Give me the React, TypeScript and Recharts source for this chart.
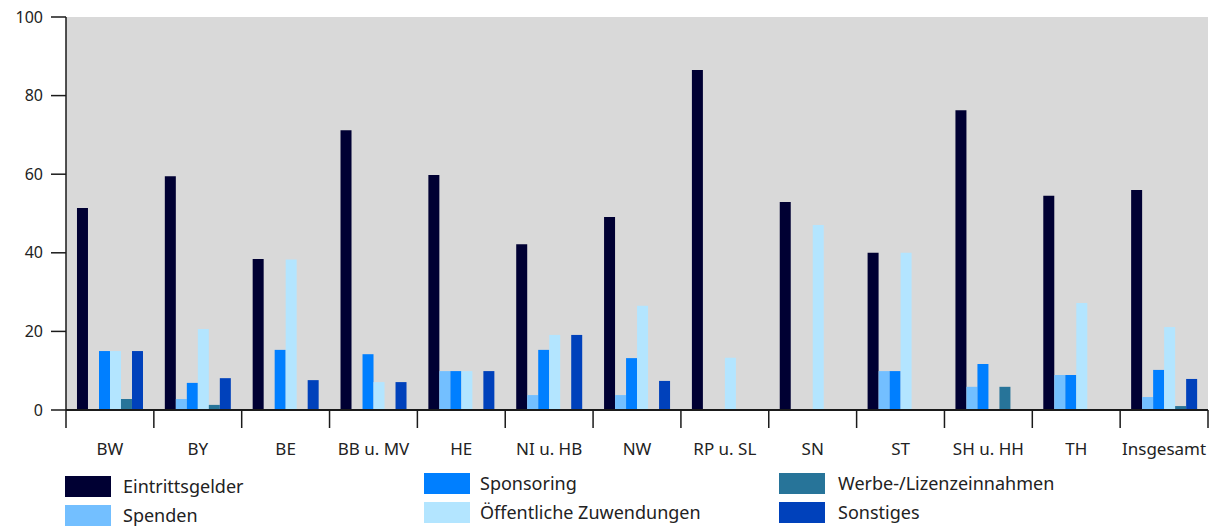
import { BarChart, Bar, XAxis, YAxis, CartesianGrid } from "recharts"

const regions = ["BW", "BY", "BE", "BB u. MV", "HE", "NI u. HB", "NW", "RP u. SL", "SN", "ST", "SH u. HH", "TH", "Insgesamt"]

const eintritt = [51.4, 59.5, 38.4, 71.2, 59.8, 42.2, 49.1, 86.5, 52.9, 40.0, 76.3, 54.5, 56.0]
const spenden = [0, 2.8, 0, 0, 9.9, 3.8, 3.8, 0, 0, 9.9, 5.9, 8.9, 3.3]
const sponsoring = [15.0, 6.9, 15.3, 14.2, 9.9, 15.3, 13.2, 0, 0, 9.9, 11.7, 8.9, 10.2]
const oeffentlich = [15.0, 20.6, 38.3, 7.1, 9.9, 19.1, 26.5, 13.3, 47.1, 40.0, 0, 27.2, 21.1]
const werbung = [2.8, 1.3, 0, 0, 0, 0, 0, 0, 0, 0, 5.9, 0, 1.0]
const sonstiges = [15.0, 8.1, 7.6, 7.1, 9.9, 19.1, 7.4, 0, 0, 0, 0, 0, 7.9]

const yTicks = [0, 20, 40, 60, 80, 100]

const series = [
  { key: "eintritt", name: "Eintrittsgelder", color: "#000033", values: eintritt },
  { key: "spenden", name: "Spenden", color: "#73bfff", values: spenden },
  { key: "sponsoring", name: "Sponsoring", color: "#007fff", values: sponsoring },
  { key: "oeffentlich", name: "Öffentliche Zuwendungen", color: "#b3e5ff", values: oeffentlich },
  { key: "werbung", name: "Werbe-/Lizenzeinnahmen", color: "#277499", values: werbung },
  { key: "sonstiges", name: "Sonstiges", color: "#0041bb", values: sonstiges },
]

const data = regions.map((region, i) => {
  const row: Record<string, string | number> = { region }
  series.forEach((s) => (row[s.key] = s.values[i]))
  return row
})

const W = 1215
const H = 460
const LEFT = 66
const RIGHT = 7
const band = (W - LEFT - RIGHT) / regions.length
const font = "'Noto Sans', sans-serif"

function XTick(props: any) {
  const { x, y, payload, index } = props
  const left = x - band / 2
  return (
    <g>
      <line x1={left} y1={y - 8} x2={left} y2={y + 10} stroke="#1a1a1a" strokeWidth={1.5} />
      {index === regions.length - 1 && (
        <line x1={left + band} y1={y - 8} x2={left + band} y2={y + 10} stroke="#1a1a1a" strokeWidth={1.5} />
      )}
      <text x={x} y={y + 37} textAnchor="middle" fill="#222" fontSize={17} fontFamily={font}>
        {payload.value}
      </text>
    </g>
  )
}

// legend: three columns, two rows
const legendCols = [
  { x: 65, textX: 123, items: [0, 1] },
  { x: 424, textX: 480, items: [2, 3] },
  { x: 779, textX: 838, items: [4, 5] },
]

export default function App() {
  return (
    <div style={{ position: "absolute", left: 0, top: 0, width: W, height: 527, background: "#fff" }}>
      <BarChart
        width={W}
        height={H}
        data={data}
        margin={{ top: 17, right: RIGHT, left: 0, bottom: 0 }}
        barCategoryGap="12.5%"
        barGap={0}
      >
        <CartesianGrid horizontal={false} vertical={false} fill="#d9d9d9" />
        <XAxis
          dataKey="region"
          interval={0}
          height={50}
          tickLine={false}
          axisLine={{ stroke: "#1a1a1a", strokeWidth: 2 }}
          tick={<XTick />}
        />
        <YAxis
          type="number"
          domain={[0, 100]}
          ticks={yTicks}
          width={LEFT}
          tickSize={15}
          tickMargin={8}
          axisLine={{ stroke: "#1a1a1a", strokeWidth: 1.5 }}
          tickLine={{ stroke: "#1a1a1a", strokeWidth: 1.5 }}
          tick={{ fill: "#222", fontSize: 16, fontFamily: font }}
        />
        {series.map((s) => (
          <Bar key={s.key} dataKey={s.key} name={s.name} fill={s.color} isAnimationActive={false} />
        ))}
      </BarChart>
      {legendCols.map((col, ci) =>
        col.items.map((si, ri) => {
          const s = series[si]
          const top = (ci === 0 ? 476 : 473) + ri * 29
          return (
            <div key={s.key}>
              <div style={{ position: "absolute", left: col.x, top, width: 46, height: 21, background: s.color }} />
              <div
                style={{
                  position: "absolute",
                  left: col.textX,
                  top: top - 2,
                  fontFamily: font,
                  fontSize: 18,
                  color: "#222",
                  lineHeight: "24px",
                  whiteSpace: "nowrap",
                }}
              >
                {s.name}
              </div>
            </div>
          )
        })
      )}
    </div>
  )
}
